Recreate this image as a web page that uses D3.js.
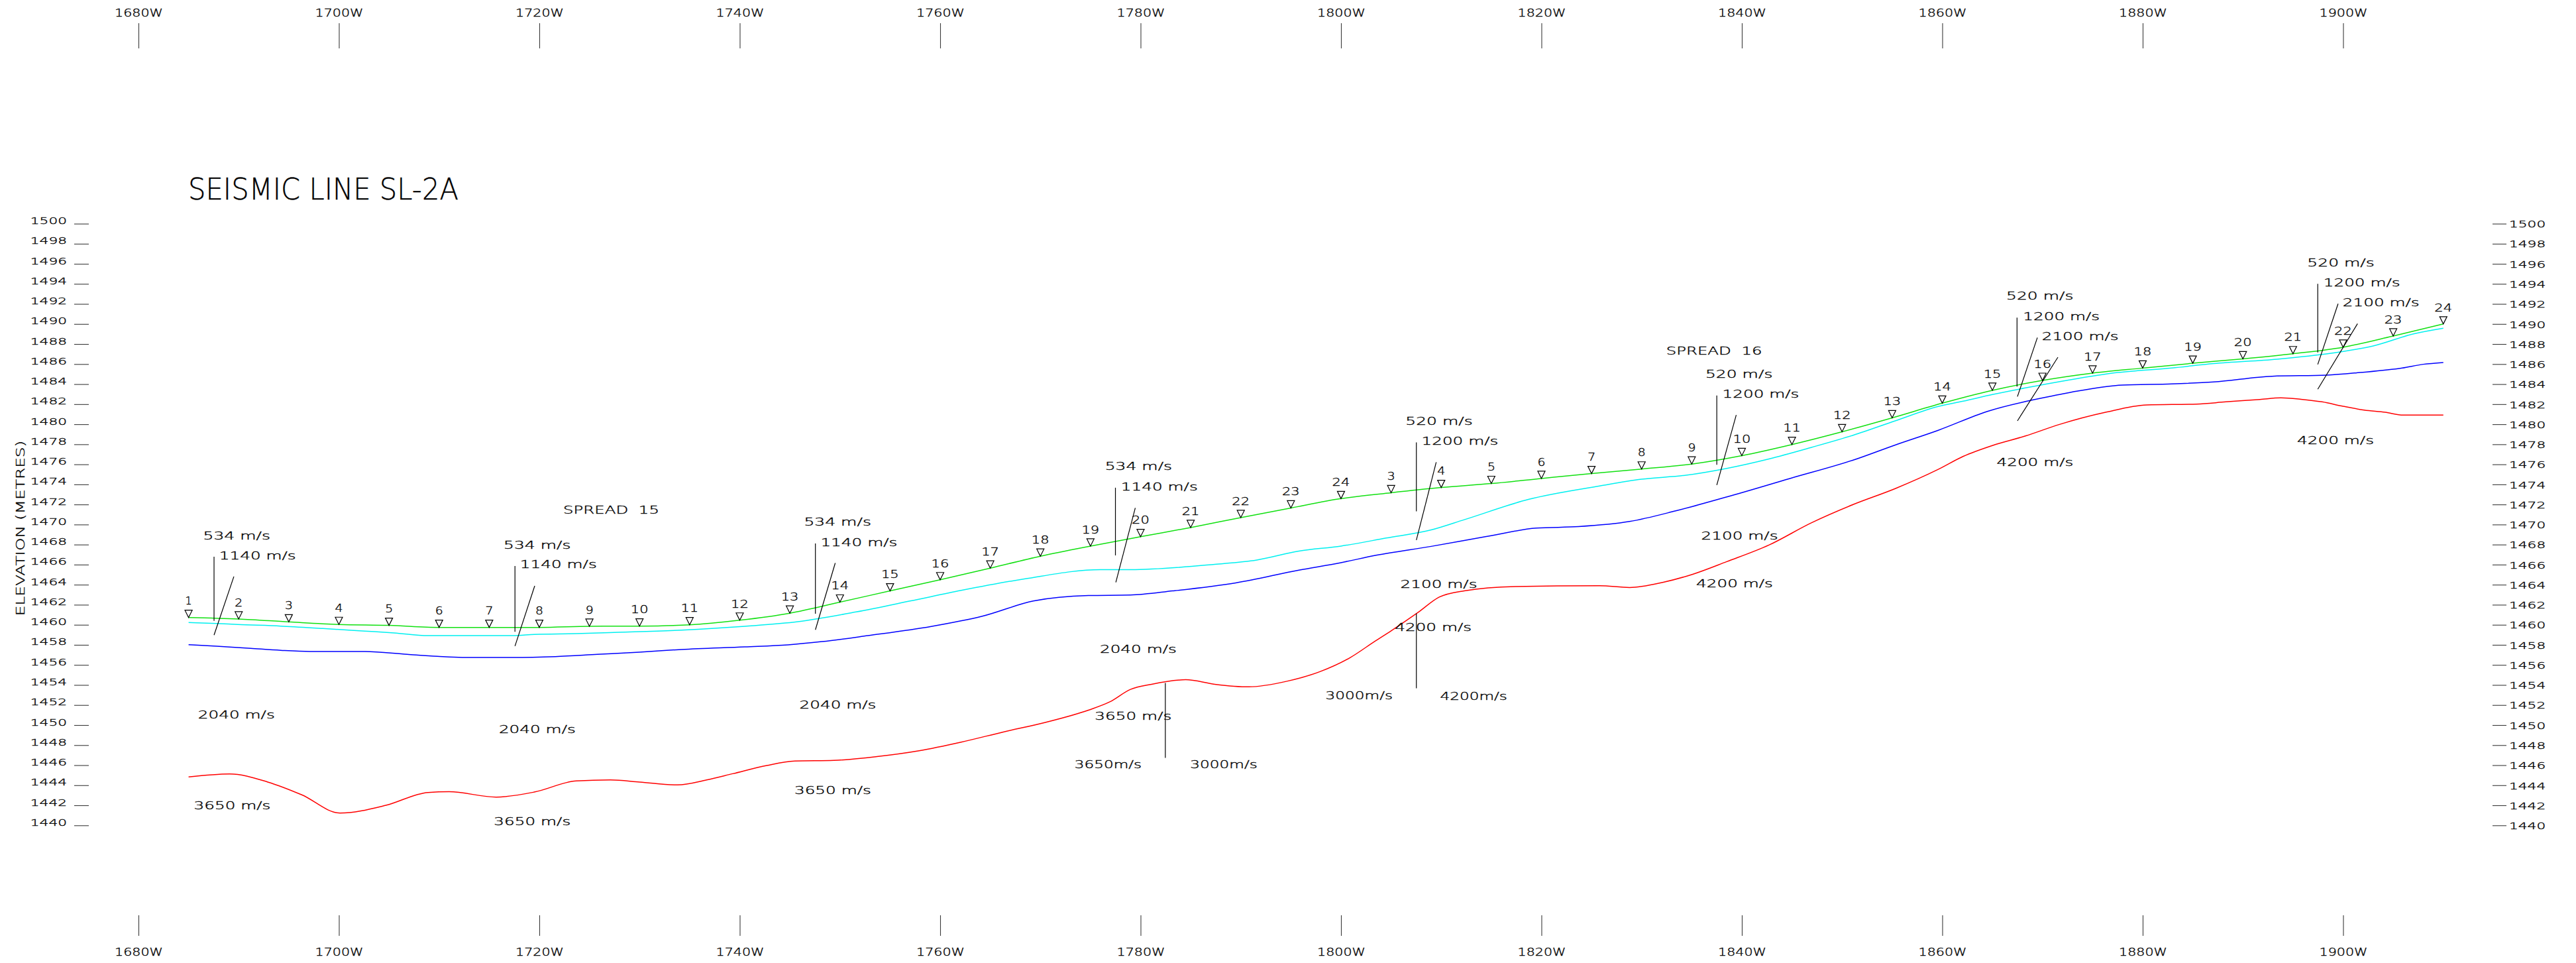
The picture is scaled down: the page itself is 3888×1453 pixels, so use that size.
<!DOCTYPE html>
<html>
<head>
<meta charset="utf-8">
<title>Seismic Line SL-2A</title>
<script src="https://cdn.jsdelivr.net/npm/d3@7"></script>
<style>
  html, body { margin: 0; padding: 0; background: #fff; }
  svg { display: block; }
  text { font-family: "DejaVu Sans", "Liberation Sans", sans-serif; font-weight: 200; fill: #000; stroke: #000; stroke-width: 0.35px; white-space: pre; }
</style>
</head>
<body>
<svg id="chart" width="3888" height="1453"></svg>
<script>
// ---- Receiver stations (offset in metres W, surface elevation in metres) ----
const spread15Stations = [1, 2, 3, 4, 5, 6, 7, 8, 9, 10, 11, 12, 13, 14, 15, 16, 17, 18, 19, 20, 21, 22, 23, 24];
const spread15Offsets = [1685, 1690, 1695, 1700, 1705, 1710, 1715, 1720, 1725, 1730, 1735, 1740,
                         1745, 1750, 1755, 1760, 1765, 1770, 1775, 1780, 1785, 1790, 1795, 1800];
const spread15Elev = [1460.73, 1460.58, 1460.29, 1460.03, 1459.94, 1459.74, 1459.74, 1459.74, 1459.85, 1459.87, 1460.00, 1460.46,
                      1461.16, 1462.26, 1463.38, 1464.49, 1465.65, 1466.84, 1467.85, 1468.79, 1469.70, 1470.69, 1471.65, 1472.58];

const spread16Stations = [3, 4, 5, 6, 7, 8, 9, 10, 11, 12, 13, 14, 15, 16, 17, 18, 19, 20, 21, 22, 23, 24];
const spread16Offsets = [1805, 1810, 1815, 1820, 1825, 1830, 1835, 1840, 1845, 1850, 1855,
                         1860, 1865, 1870, 1875, 1880, 1885, 1890, 1895, 1900, 1905, 1910];
const spread16Elev = [1473.17, 1473.69, 1474.09, 1474.59, 1475.08, 1475.53, 1476.03, 1476.87, 1477.98, 1479.25, 1480.64,
                      1482.10, 1483.38, 1484.37, 1485.10, 1485.60, 1486.08, 1486.52, 1487.03, 1487.68, 1488.80, 1490.00];

// ---- Refractor interfaces: [offset W, elevation] ----
// base of the weathered layer (534 / 520 m/s)
const weatheredBase = [[1685, 1460.22], [1687.8, 1460.13], [1689.9, 1460.03], [1694.2, 1459.87], [1698.4, 1459.63],
  [1702.6, 1459.37], [1705.5, 1459.19], [1708.9, 1458.92], [1713.1, 1458.92], [1717.4, 1458.92], [1719.5, 1459.04],
  [1723.7, 1459.12], [1727.9, 1459.25], [1734.2, 1459.47], [1740.5, 1459.85], [1745.8, 1460.31], [1751.6, 1461.28],
  [1757.0, 1462.37], [1762.1, 1463.43], [1768.4, 1464.57], [1776.0, 1465.50], [1779.0, 1465.50], [1787.4, 1466.03],
  [1791.6, 1466.46], [1795.8, 1467.35], [1800.0, 1467.85], [1804.5, 1468.65], [1809.0, 1469.46], [1812.3, 1470.48],
  [1818.7, 1472.50], [1825.8, 1473.84], [1830.0, 1474.52], [1834.3, 1474.90], [1838.5, 1475.60], [1842.7, 1476.54],
  [1846.9, 1477.68], [1851.1, 1478.90], [1855.3, 1480.34], [1859.6, 1481.78], [1862.1, 1482.30], [1865.0, 1482.96],
  [1868.3, 1483.62], [1872.5, 1484.39], [1877.5, 1485.16], [1882.9, 1485.61], [1887.1, 1486.05], [1893.4, 1486.49],
  [1898.8, 1487.08], [1903.0, 1487.81], [1907.1, 1489.03], [1910.0, 1489.58]];

// base of the sub-weathered layer (1140 / 1200 m/s)
const subweatheredBase = [[1685, 1458.02], [1687.8, 1457.87], [1691.2, 1457.65], [1694.2, 1457.45], [1697.1, 1457.34],
  [1702.6, 1457.34], [1706.8, 1457.05], [1709.8, 1456.85], [1712.3, 1456.74], [1717.4, 1456.74], [1721.6, 1456.83],
  [1725.8, 1457.05], [1730.0, 1457.27], [1734.2, 1457.54], [1740.5, 1457.80], [1744.8, 1458.00], [1748.2, 1458.32],
  [1752.8, 1458.92], [1759.1, 1459.83], [1764.2, 1460.85], [1769.3, 1462.37], [1774.8, 1462.92], [1779.0, 1462.97],
  [1783.2, 1463.38], [1789.5, 1464.18], [1795.8, 1465.45], [1800.0, 1466.20], [1803.5, 1466.93], [1809.0, 1467.82],
  [1814.4, 1468.78], [1819.5, 1469.64], [1823.7, 1469.79], [1828.8, 1470.30], [1833.4, 1471.36], [1838.5, 1472.75],
  [1844.8, 1474.59], [1851.1, 1476.42], [1855.3, 1477.93], [1859.6, 1479.40], [1864.5, 1481.28], [1871.7, 1482.96],
  [1873.4, 1483.29], [1878.0, 1483.91], [1882.9, 1484.02], [1887.1, 1484.22], [1892.9, 1484.79], [1898.4, 1484.90],
  [1901.7, 1485.16], [1905.9, 1485.61], [1908.0, 1485.98], [1910.0, 1486.16]];

// top of the high-velocity refractor (3650 / 4200 m/s)
const refractorTop = [[1685, 1444.83], [1689.1, 1445.13], [1692.9, 1444.32], [1696.3, 1443.04], [1700.1, 1441.23],
  [1704.7, 1442.00], [1708.9, 1443.28], [1711.0, 1443.35], [1715.7, 1442.82], [1719.5, 1443.32], [1723.7, 1444.43],
  [1727.1, 1444.53], [1730.0, 1444.32], [1733.8, 1444.03], [1736.7, 1444.53], [1739.3, 1445.15], [1742.7, 1445.97],
  [1745.5, 1446.41], [1749.4, 1446.48], [1753.7, 1446.86], [1757.9, 1447.44], [1762.1, 1448.30], [1766.3, 1449.31],
  [1770.5, 1450.27], [1774.8, 1451.49], [1776.9, 1452.30], [1779.0, 1453.56], [1781.1, 1454.07], [1784.5, 1454.52],
  [1787.4, 1454.07], [1790.8, 1453.81], [1794.6, 1454.37], [1797.9, 1455.33], [1800.9, 1456.72], [1803.4, 1458.37],
  [1805.0, 1459.40], [1807.7, 1461.24], [1809.8, 1462.76], [1812.3, 1463.39], [1817.4, 1463.82], [1825.8, 1463.90],
  [1828.8, 1463.72], [1832.1, 1464.23], [1835.1, 1465.04], [1838.5, 1466.30], [1842.7, 1467.95], [1846.9, 1470.15],
  [1851.1, 1471.99], [1855.3, 1473.58], [1859.6, 1475.50], [1862.1, 1476.80], [1865.0, 1477.88], [1868.3, 1478.83],
  [1871.7, 1479.98], [1876.3, 1481.19], [1880.4, 1481.92], [1885.4, 1482.01], [1888.3, 1482.23], [1891.7, 1482.47],
  [1893.8, 1482.63], [1895.8, 1482.49], [1897.9, 1482.23], [1900.0, 1481.79], [1902.1, 1481.41], [1904.2, 1481.19],
  [1906.0, 1480.91], [1910.0, 1480.91]];

// ---- Layer velocity annotations: [text, offset W, elevation] ----
const velocityLabels = [
  ["534 m/s", 1686.45, 1468.90], ["1140 m/s", 1688.05, 1466.90], ["2040 m/s", 1685.94, 1451.04], ["3650 m/s", 1685.52, 1442.00],
  ["534 m/s", 1716.43, 1467.96], ["1140 m/s", 1718.07, 1466.01], ["2040 m/s", 1715.96, 1449.56], ["3650 m/s", 1715.46, 1440.40],
  ["534 m/s", 1746.41, 1470.26], ["1140 m/s", 1748.06, 1468.24], ["2040 m/s", 1745.95, 1452.00], ["3650 m/s", 1745.45, 1443.50],
  ["534 m/s", 1776.44, 1475.82], ["1140 m/s", 1778.04, 1473.79], ["2040 m/s", 1775.93, 1457.56], ["3650 m/s", 1775.43, 1450.91],
  ["3650m/s", 1773.40, 1446.05], ["3000m/s", 1784.95, 1446.05], ["3000m/s", 1798.45, 1452.93],
  ["520 m/s", 1806.43, 1480.34], ["1200 m/s", 1808.03, 1478.31], ["2100 m/s", 1805.92, 1464.02], ["4200 m/s", 1805.37, 1459.78],
  ["4200m/s", 1809.88, 1452.90],
  ["520 m/s", 1836.36, 1485.02], ["1200 m/s", 1838.05, 1483.05], ["2100 m/s", 1835.94, 1468.90], ["4200 m/s", 1835.44, 1464.10],
  ["520 m/s", 1866.38, 1492.78], ["1200 m/s", 1868.05, 1490.76], ["2100 m/s", 1869.93, 1488.78], ["4200 m/s", 1865.42, 1476.21],
  ["520 m/s", 1896.42, 1496.13], ["1200 m/s", 1898.03, 1494.10], ["2100 m/s", 1899.95, 1492.12], ["4200 m/s", 1895.41, 1478.41]
];

const spreadLabels = [["SPREAD  15", 1722.38, 1471.48], ["SPREAD  16", 1832.44, 1487.29]];

// ---- Leader lines tying velocity labels to their layers: [[W, elev], [W, elev]] ----
const leaderLines = [
  [[1687.54, 1466.79], [1687.54, 1460.40]], [[1689.52, 1464.81], [1687.54, 1458.97]],
  [[1717.57, 1465.86], [1717.57, 1459.30]], [[1719.54, 1463.88], [1717.57, 1457.87]],
  [[1747.55, 1468.11], [1747.55, 1461.10]], [[1749.53, 1466.16], [1747.55, 1459.50]],
  [[1777.49, 1473.67], [1777.49, 1466.92]], [[1779.47, 1471.65], [1777.53, 1464.24]],
  [[1782.47, 1454.20], [1782.47, 1446.73]],
  [[1807.52, 1478.19], [1807.52, 1471.31]], [[1809.50, 1476.21], [1807.52, 1468.45]],
  [[1807.52, 1461.13], [1807.52, 1453.66]],
  [[1837.50, 1482.86], [1837.50, 1475.96]], [[1839.44, 1480.92], [1837.50, 1473.94]],
  [[1867.46, 1490.63], [1867.46, 1483.75]], [[1869.49, 1488.64], [1867.50, 1482.76]], [[1871.54, 1486.68], [1867.50, 1480.34]],
  [[1897.47, 1494.00], [1897.47, 1487.16]], [[1899.50, 1492.02], [1897.47, 1485.96]], [[1901.44, 1490.03], [1897.47, 1483.49]]
];

// ---- Axis ticks ----
const offsetTicks = [1680, 1700, 1720, 1740, 1760, 1780, 1800, 1820, 1840, 1860, 1880, 1900];
const elevationTicks = [1440, 1442, 1444, 1446, 1448, 1450, 1452, 1454, 1456, 1458, 1460, 1462, 1464, 1466, 1468, 1470,
                        1472, 1474, 1476, 1478, 1480, 1482, 1484, 1486, 1488, 1490, 1492, 1494, 1496, 1498, 1500];

// ================= drawing =================
const svg = d3.select("#chart");
svg.append("rect").attr("width", 3888).attr("height", 1453).attr("fill", "#fff");

const x = d3.scaleLinear().domain([1680, 1900]).range([209, 3536.5]);
const y = d3.scaleLinear().domain([1440, 1500]).range([1245.3, 337.5]);

// wide plotter lettering: fixed advance per character
function plotterText(sel, advance) {
  sel.attr("lengthAdjust", "spacingAndGlyphs")
     .attr("textLength", function () { return this.textContent.length * advance; });
}

function cleanAxis(g) {
  g.attr("font-family", null).attr("font-size", null);
  g.select(".domain").remove();
  g.selectAll(".tick line").attr("stroke", "#3a3a3a").attr("stroke-width", 1.1);
  g.selectAll(".tick text").attr("fill", "#000");
}

// offset axes, top and bottom
const topAxis = svg.append("g").attr("transform", "translate(0,73)")
  .call(d3.axisTop(x).tickValues(offsetTicks).tickFormat(d => d + "W").tickSize(38).tickPadding(10));
cleanAxis(topAxis);
topAxis.selectAll(".tick text").attr("font-size", 15).call(plotterText, 14.6);

const bottomAxis = svg.append("g").attr("transform", "translate(0,1381)")
  .call(d3.axisBottom(x).tickValues(offsetTicks).tickFormat(d => d + "W").tickSize(31).tickPadding(19));
cleanAxis(bottomAxis);
bottomAxis.selectAll(".tick text").attr("font-size", 15).call(plotterText, 14.6);

// elevation axes, left and right
const leftAxis = svg.append("g").attr("transform", "translate(134,0)")
  .call(d3.axisLeft(y).tickValues(elevationTicks).tickFormat(d3.format("d")).tickSize(22).tickPadding(11));
cleanAxis(leftAxis);
leftAxis.selectAll(".tick text").attr("font-size", 14.5).attr("dy", "0em").call(plotterText, 13.8);

const rightAxis = svg.append("g").attr("transform", "translate(3762,0)")
  .call(d3.axisRight(y).tickValues(elevationTicks).tickFormat(d3.format("d")).tickSize(21).tickPadding(4));
cleanAxis(rightAxis);
rightAxis.selectAll(".tick text").attr("font-size", 14.5).attr("dy", "0.36em").call(plotterText, 13.8);

svg.append("text")
  .attr("transform", "translate(31,797) rotate(-90)")
  .attr("text-anchor", "middle").attr("dy", "0.36em")
  .attr("font-size", 17)
  .text("ELEVATION (METRES)")
  .call(plotterText, 14.7);

svg.append("text")
  .attr("x", 284).attr("y", 285.5).attr("dy", "0.36em")
  .attr("font-size", 44)
  .text("SEISMIC LINE SL-2A")
  .attr("lengthAdjust", "spacingAndGlyphs").attr("textLength", 408);

// interfaces
const path = d3.line().x(d => x(d[0])).y(d => y(d[1])).curve(d3.curveMonotoneX);

const surface = spread15Offsets.map((w, i) => [w, spread15Elev[i]])
  .concat(spread16Offsets.map((w, i) => [w, spread16Elev[i]]));

const layers = [
  { pts: refractorTop, color: "#ff0000" },
  { pts: subweatheredBase, color: "#0000ff" },
  { pts: weatheredBase, color: "#00f0f0" },
  { pts: surface, color: "#11e011" }
];
svg.append("g").selectAll("path").data(layers).join("path")
  .attr("d", d => path(d.pts))
  .attr("fill", "none")
  .attr("stroke", d => d.color)
  .attr("stroke-width", 1.5)
  .attr("stroke-linejoin", "round");

// leader lines
svg.append("g").selectAll("line").data(leaderLines).join("line")
  .attr("x1", d => x(d[0][0])).attr("y1", d => y(d[0][1]))
  .attr("x2", d => x(d[1][0])).attr("y2", d => y(d[1][1]))
  .attr("stroke", "#000").attr("stroke-width", 1.2);

// receiver stations: inverted triangles sitting on the surface, numbered above
const stations = spread15Stations.map((s, i) => ({ n: s, w: spread15Offsets[i], e: spread15Elev[i] }))
  .concat(spread16Stations.map((s, i) => ({ n: s, w: spread16Offsets[i], e: spread16Elev[i] })));

const gSt = svg.append("g");
gSt.selectAll("path").data(stations).join("path")
  .attr("d", d => {
    const cx = x(d.w), ty = y(d.e);
    return `M${cx},${ty} L${cx - 5.5},${ty - 11} L${cx + 5.5},${ty - 11} Z`;
  })
  .attr("fill", "none").attr("stroke", "#000").attr("stroke-width", 1.2);

gSt.selectAll("text").data(stations).join("text")
  .attr("x", d => x(d.w)).attr("y", d => y(d.e) - 25)
  .attr("dy", "0.36em").attr("text-anchor", "middle")
  .attr("font-size", 16)
  .text(d => d.n)
  .each(function (d) {
    const s = String(d.n);
    if (s.length > 1) d3.select(this).call(plotterText, 13.4);
    else if (s !== "1") d3.select(this).attr("lengthAdjust", "spacingAndGlyphs").attr("textLength", 12);
  });

// velocity and spread labels
svg.append("g").selectAll("text").data(velocityLabels.concat(spreadLabels)).join("text")
  .attr("x", d => x(d[1])).attr("y", d => y(d[2]))
  .attr("dy", "0.36em")
  .attr("font-size", 15.5)
  .text(d => d[0])
  .call(plotterText, 14.5);
</script>
</body>
</html>
